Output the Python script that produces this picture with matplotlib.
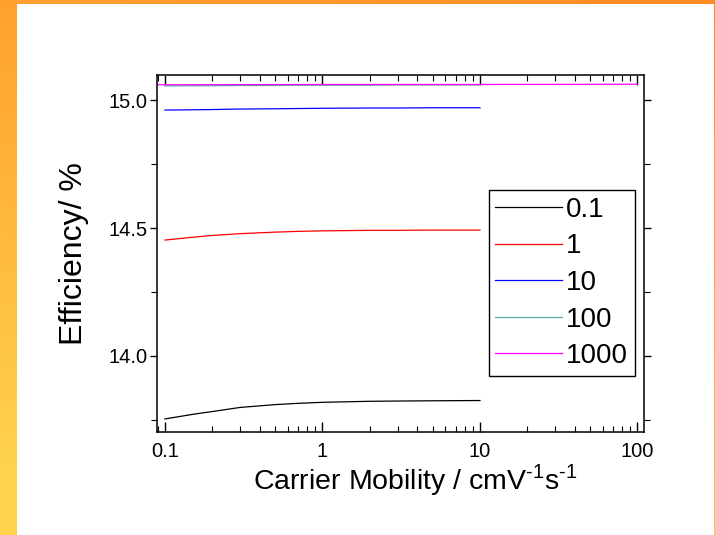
import matplotlib
matplotlib.use("Agg")
import matplotlib.pyplot as plt
from matplotlib.patches import Rectangle
from matplotlib.ticker import FixedLocator, LogLocator, MultipleLocator, FuncFormatter
import numpy as np

plt.rcParams["font.family"] = ["Liberation Sans", "DejaVu Sans"]

# efficiency vs carrier mobility, one curve per legend value
labels = ["0.1", "1", "10", "100", "1000"]
colors = ["#000000", "#FF0000", "#0000FF", "#55AAAA", "#FF00FF"]

mob_short = [0.1, 0.15, 0.2, 0.3, 0.5, 0.7, 1, 2, 3, 5, 10]
mob_long = [0.08, 0.1, 1, 10, 100]

eff_01 = [13.754, 13.772, 13.783, 13.799, 13.810, 13.815, 13.819, 13.823, 13.824, 13.825, 13.826]
eff_1 = [14.453, 14.464, 14.471, 14.478, 14.484, 14.487, 14.489, 14.491, 14.491, 14.492, 14.492]
eff_10 = [14.961, 14.962, 14.963, 14.965, 14.966, 14.967, 14.968, 14.969, 14.969, 14.970, 14.970]
eff_100 = [15.055, 15.056, 15.056, 15.057, 15.057, 15.058, 15.058, 15.058, 15.059, 15.059, 15.059]
eff_1000 = [15.060, 15.060, 15.061, 15.061, 15.062]

series = [(mob_short, eff_01), (mob_short, eff_1), (mob_short, eff_10),
          (mob_short, eff_100), (mob_long, eff_1000)]

W, H = 715, 535
fig = plt.figure(figsize=(W / 100, H / 100), dpi=100)

# orange/yellow frame behind a white panel
bg = fig.add_axes([0, 0, 1, 1], zorder=-10)
yy, xx = np.mgrid[0:1:200j, 0:1:200j]
s = np.clip(0.8 * yy + 0.3 * (1 - xx), 0, 1)
orange = np.array([255, 140, 34]) / 255
yellow = np.array([255, 210, 78]) / 255
img = orange[None, None, :] * (1 - s[..., None]) + yellow[None, None, :] * s[..., None]
bg.imshow(img, extent=[0, 1, 0, 1], aspect="auto", origin="upper")
bg.add_patch(Rectangle((17 / W, 0), (W - 17 - 1) / W, (H - 4) / H,
                       facecolor="white", edgecolor="none"))
bg.set_xlim(0, 1)
bg.set_ylim(0, 1)
bg.axis("off")

ax = fig.add_axes([157 / W, (H - 432) / H, 487 / W, 357 / H])
ax.set_facecolor("none")
for (x, y), lab, col in zip(series, labels, colors):
    ax.plot(x, y, color=col, lw=0.9, label=lab)

ax.set_xscale("log")
ax.set_xlim(0.089, 110)
ax.set_ylim(13.703, 15.098)

ax.xaxis.set_major_locator(FixedLocator([0.1, 1, 10, 100]))
ax.xaxis.set_minor_locator(LogLocator(base=10, subs=np.arange(2, 10), numticks=20))
ax.xaxis.set_major_formatter(FuncFormatter(lambda v, p: f"{v:g}"))
ax.yaxis.set_major_locator(MultipleLocator(0.5))
ax.yaxis.set_minor_locator(MultipleLocator(0.25))
ax.yaxis.set_major_formatter(FuncFormatter(lambda v, p: f"{v:.1f}"))

ax.tick_params(axis="x", which="both", direction="in", top=True, bottom=True,
               labelsize=14.5, pad=7)
ax.tick_params(axis="x", which="major", length=7, width=1)
ax.tick_params(axis="x", which="minor", length=4, width=0.8)
ax.tick_params(axis="y", which="both", direction="out", left=True, right=True,
               labelsize=14.5, pad=2)
ax.tick_params(axis="y", which="major", length=5, width=1)
ax.tick_params(axis="y", which="minor", length=4, width=0.8)
for sp in ax.spines.values():
    sp.set_linewidth(1.1)

ax.set_xlabel("Carrier Mobility / cmV$^{\\mathregular{\u20101}}$s$^{\\mathregular{\u20101}}$",
              fontsize=20.5, ha="left")
ax.xaxis.set_label_coords(0.198, -0.083)
ax.set_ylabel("Efficiency/ %", fontsize=23, labelpad=14)

leg = ax.legend(loc="upper right", bbox_to_anchor=(0.982, 0.678), fontsize=20,
                frameon=True, fancybox=False, edgecolor="black", framealpha=1,
                handlelength=2.4, handletextpad=0.15, labelspacing=0.38,
                borderpad=0.25, borderaxespad=0)
leg.get_frame().set_linewidth(1.0)

fig.savefig("out.png", dpi=100)
